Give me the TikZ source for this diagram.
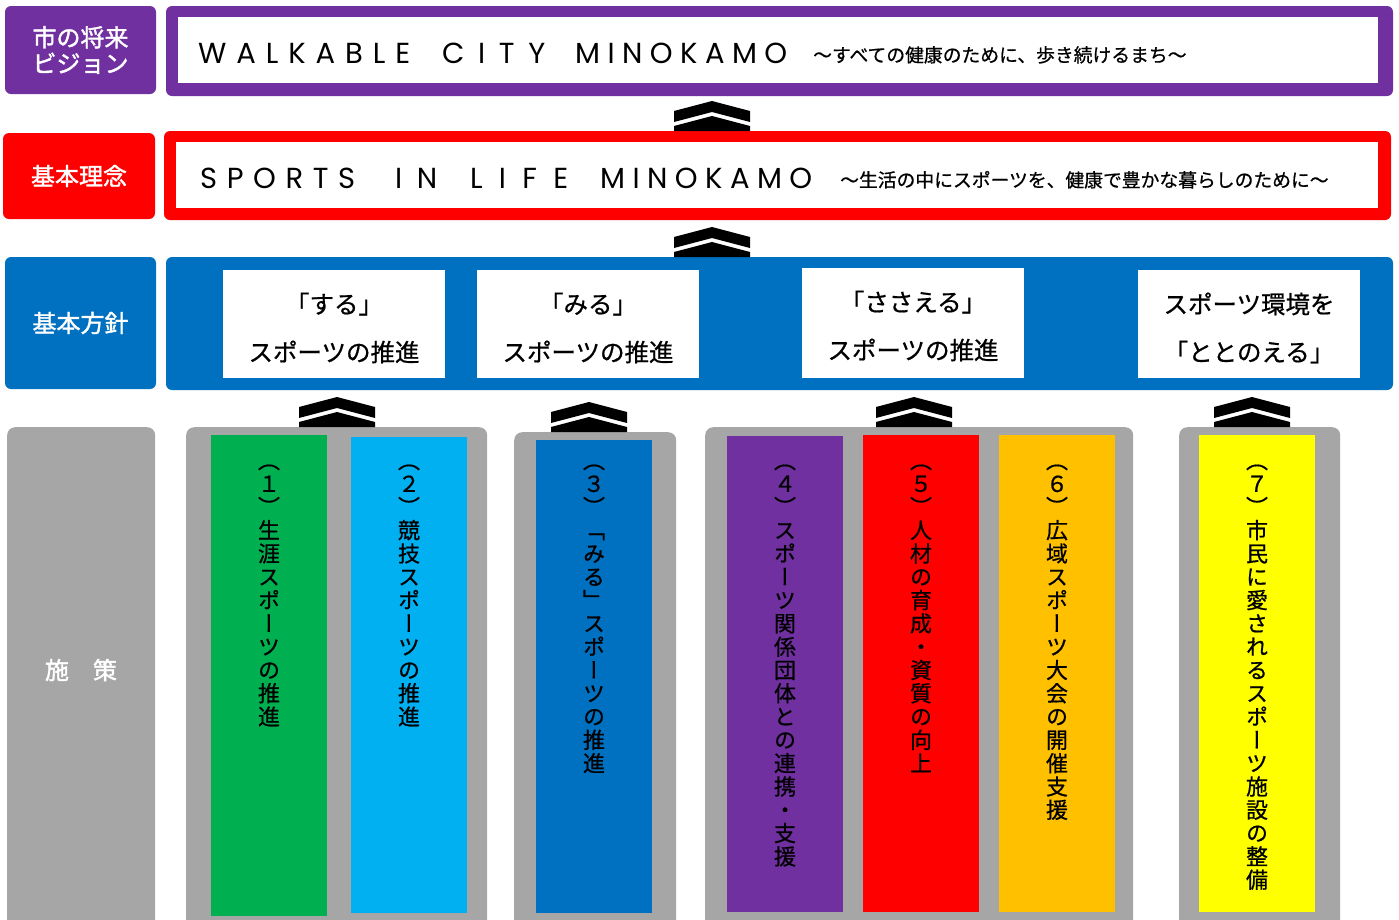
\documentclass[tikz,border=0pt]{standalone}
\usepackage{fontspec}
\usepackage{xcolor}
\usepackage{tikz}
\usetikzlibrary{positioning}

\setmainfont{Noto Sans CJK JP}[RawFeature={embolden=0.7}]
\newfontfamily\lblfont{Noto Sans CJK JP}[RawFeature={embolden=1.6}]
\newfontfamily\tatefont{Noto Sans CJK JP}[RawFeature={+vert;embolden=0.7}]
\newfontfamily\titlefont{Poppins}

\definecolor{vispurple}{HTML}{7030A0}
\definecolor{conred}{HTML}{FF0000}
\definecolor{polblue}{HTML}{0070C0}
\definecolor{measgray}{HTML}{A6A6A6}
\definecolor{colgreen}{HTML}{00B050}
\definecolor{colcyan}{HTML}{00B0F0}
\definecolor{colorange}{HTML}{FFC000}
\definecolor{colyellow}{HTML}{FFFF00}

% vertical text, one character per line
\def\tateend{\tateend}
\def\tateloop#1{\ifx#1\tateend\else
  \hbox to 22pt{\vrule height 19.4pt depth 2.6pt width 0pt\hss#1\hss}%
  \expandafter\tateloop\fi}
\newcommand\tate[1]{\vbox{\tatefont\fontsize{22}{23.3}\selectfont
  \baselineskip=23.3pt\tateloop#1\tateend}}
% spaced capitals over a given width
\def\spreadloop#1#2{#1\ifx#2\tateend\else\hfil\expandafter\spreadloop\expandafter#2\fi}
\newcommand\spreadword[2]{\hbox to #1{\spreadloop#2\tateend}}

\begin{document}
\begin{tikzpicture}[x=1pt, y=-1pt,
    lbl/.style={rounded corners=6pt, inner sep=0pt, text=white, align=center,
      font=\lblfont\fontsize{24}{26}\selectfont},
    frame/.style={rounded corners=6pt, inner sep=0pt},
    inner/.style={fill=white, inner sep=0pt},
    title/.style={anchor=base west, inner sep=0pt, font=\titlefont\fontsize{29}{30}\selectfont},
    subtitle/.style={anchor=base west, inner sep=0pt, font=\fontsize{18.8}{20}\selectfont},
    policy/.style={fill=white, inner sep=0pt, minimum width=222pt, minimum height=108pt},
    policytext/.style={align=center, inner sep=0pt, font=\fontsize{24.5}{48}\selectfont},
    group/.style={fill=measgray, rounded corners=8pt, inner sep=0pt, anchor=north west},
    measure/.style={inner sep=0pt, minimum width=116pt, anchor=north},
    tatetext/.style={inner sep=0pt, anchor=north},
    pics/upmark/.style={code={
      \fill (-38,-20) -- (0,-30) -- (38,-20) -- (38,-9) -- (0,-19) -- (-38,-9) -- cycle;
      \fill (-38,-5) -- (0,-15) -- (38,-5) -- (38,0) -- (-38,0) -- cycle;
    }}]
  \useasboundingbox (0,0) rectangle (1399,919);
  \clip (0,0) rectangle (1399,919);

  % vision
  \node[lbl, fill=vispurple, minimum width=151pt, minimum height=88pt] (visionlbl) at (80.5,50) {市の将来\\ビジョン};
  \node[frame, fill=vispurple, minimum width=1227pt, minimum height=90pt] (visionframe) at (779.5,51) {};
  \node[inner, minimum width=1200pt, minimum height=66pt] (visioninner) at (778,50) {};
  \node[title] (visiontitle) at (198,63)
    {\spreadword{212pt}{WALKABLE}\hspace{32pt}\spreadword{103pt}{CITY}\hspace{30pt}\spreadword{212pt}{MINOKAMO}};
  \node[subtitle] (visionsub) at (813,62) {～すべての健康のために、歩き続けるまち～};

  % concept
  \node[lbl, fill=conred, minimum width=152pt, minimum height=86pt] (conceptlbl) at (79,176) {基本理念};
  \node[frame, fill=conred, minimum width=1227pt, minimum height=89pt] (conceptframe) at (777.5,175.5) {};
  \node[inner, minimum width=1202pt, minimum height=66pt] (conceptinner) at (777,175) {};
  \node[title] (concepttitle) at (200,188)
    {\spreadword{155pt}{SPORTS}\hspace{40pt}\spreadword{42pt}{IN}\hspace{33pt}\spreadword{98pt}{LIFE}\hspace{32pt}\spreadword{212pt}{MINOKAMO}};
  \node[subtitle] (conceptsub) at (840,187) {～生活の中にスポーツを、健康で豊かな暮らしのために～};

  % policies
  \node[lbl, fill=polblue, minimum width=151pt, minimum height=132pt] (policylbl) at (80.5,323) {基本方針};
  \node[frame, fill=polblue, minimum width=1227pt, minimum height=133pt] (policyframe) at (779.5,323.5) {};
  \node[policy] (suru) at (334,324) {};
  \node[policy] (miru) at (588,324) {};
  \node[policy, minimum height=110pt] (sasaeru) at (913,323) {};
  \node[policy] (totonoeru) at (1249,324) {};
  \node[policytext] at ([yshift=-4pt]suru.center) {「する」\\スポーツの推進};
  \node[policytext] at ([yshift=-4pt]miru.center) {「みる」\\スポーツの推進};
  \node[policytext] at ([yshift=-3pt]sasaeru.center) {「ささえる」\\スポーツの推進};
  \node[policytext] at ([yshift=-4pt]totonoeru.center) {スポーツ環境を\\「ととのえる」};

  % measures
  \node[group, minimum width=148pt, minimum height=510pt] (measlbl) at (7,427) {};
  \node[text=white, font=\lblfont\fontsize{24}{26}\selectfont] (measname) at (81,670) {施　策};
  \node[group, minimum width=301pt, minimum height=510pt] (groupa) at (186,427) {};
  \node[group, minimum width=162pt, minimum height=505pt] (groupb) at (514,432) {};
  \node[group, minimum width=428pt, minimum height=510pt] (groupc) at (705,427) {};
  \node[group, minimum width=161pt, minimum height=510pt] (groupd) at (1179,427) {};

  \node[measure, fill=colgreen, minimum height=481pt] (mone) at (269,435) {};
  \node[measure, fill=colcyan, minimum height=476pt] (mtwo) at (409,437) {};
  \node[measure, fill=polblue, minimum height=473pt] (mthree) at (594,440) {};
  \node[measure, fill=vispurple, minimum height=476pt] (mfour) at (785,436) {};
  \node[measure, fill=conred, minimum height=477pt] (mfive) at (921,435) {};
  \node[measure, fill=colorange, minimum height=477pt] (msix) at (1057,435) {};
  \node[measure, fill=colyellow, minimum height=477pt] (mseven) at (1257,435) {};

  \node[tatetext] at (269,449) {\tate{（１）生涯スポーツの推進}};
  \node[tatetext] at (409,449) {\tate{（２）競技スポーツの推進}};
  \node[tatetext] at (594,449) {\tate{（３）「みる」スポーツの推進}};
  \node[tatetext] at (785,449) {\tate{（４）スポーツ関係団体との連携・支援}};
  \node[tatetext] at (921,449) {\tate{（５）人材の育成・資質の向上}};
  \node[tatetext] at (1057,449) {\tate{（６）広域スポーツ大会の開催支援}};
  \node[tatetext] at (1257,449) {\tate{（７）市民に愛されるスポーツ施設の整備}};

  % arrows between levels
  \pic at (712,131) {upmark};
  \pic at (712,257) {upmark};
  \pic at (337,427) {upmark};
  \pic at (589,432) {upmark};
  \pic at (914,427) {upmark};
  \pic at (1252,427) {upmark};
\end{tikzpicture}
\end{document}
